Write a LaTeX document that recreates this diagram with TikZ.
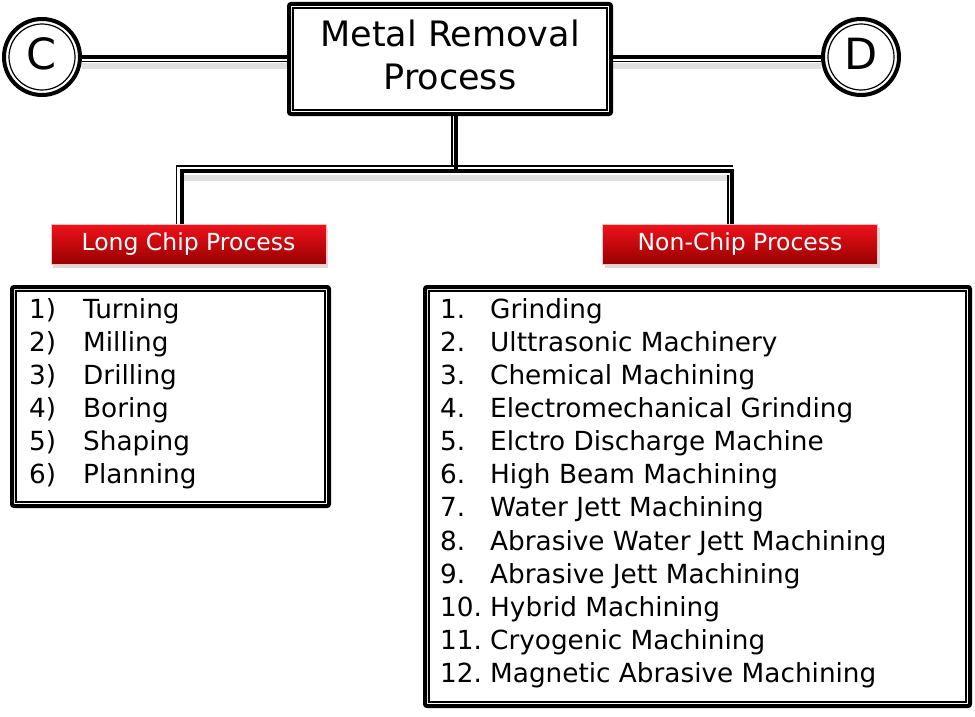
\documentclass[tikz,border=0pt]{standalone}
\usepackage{fontspec}
\setmainfont{DejaVu Sans}
\usetikzlibrary{shadows,calc}
\definecolor{redtop}{HTML}{F0121C}
\definecolor{redbot}{HTML}{980000}
\tikzset{
  thk/.style={line width=4pt, black},
  thn/.style={line width=1.2pt, black},
  shd/.style={line width=6pt, black, opacity=0.12},
  outerbox/.style={draw, line width=4pt, rounded corners=2pt, fill=white, inner sep=0pt},
  ring/.style={circle, draw, line width=4pt, minimum size=76pt, inner sep=0pt, fill=white},
  ringtxt/.style={inner sep=0pt, font=\fontsize{43}{46}\selectfont},
  redlabel/.style={draw=red!25!white, line width=0.8pt, top color=redtop, bottom color=redbot,
     text=white, minimum width=275pt, minimum height=40pt, inner sep=0pt,
     font=\fontsize{23.5}{26}\selectfont,
     drop shadow={opacity=0.3, shadow xshift=2pt, shadow yshift=-4pt}},
  listtxt/.style={inner sep=0pt, anchor=base west, font=\fontsize{26.3}{30}\selectfont},
}
\begin{document}
\begin{tikzpicture}[x=1pt, y=-1pt]
\useasboundingbox (0,0) rectangle (975,717);

% main box and circles
\node[outerbox, minimum width=322pt, minimum height=110pt] (main) at (450,59) {};
\draw[thn] ([shift={(6,6)}]main.north west) rectangle ([shift={(-6,-6)}]main.south east);
\node[inner sep=0pt, anchor=base, font=\fontsize{35}{42}\selectfont] (t1) at (450,47) {Metal Removal};
\node[inner sep=0pt, anchor=base, font=\fontsize{35}{42}\selectfont] (t2) at (450,89) {Process};

\node[ring] (C) at (42,57) {};
\draw[thn] (C.center) circle (33pt);
\node[ringtxt, anchor=base] (Ct) at (42,70) {C};
\node[ring] (D) at (861,57) {};
\draw[thn] (D.center) circle (33pt);
\node[ringtxt, anchor=base] (Dt) at (861,70) {D};

% horizontal connectors
\draw[shd, transform canvas={yshift=-9pt}] (C.east) -- (C.east -| main.west);
\draw[shd, transform canvas={yshift=-9pt}] (D.west -| main.east) -- (D.west);
\draw[thk] (C.east) -- (C.east -| main.west);
\draw[thn, transform canvas={yshift=-4.5pt}] (C.east) -- (C.east -| main.west);
\draw[thk] (D.west -| main.east) -- (D.west);
\draw[thn, transform canvas={yshift=-4.5pt}] (D.west -| main.east) -- (D.west);

% red labels
\node[redlabel] (lc) at (188.5,244) {Long Chip Process};
\node[redlabel] (rc) at (740,244) {Non-Chip Process};

% tree connector
\draw[shd, transform canvas={yshift=-7pt}] ([xshift=-7pt]lc.north |- 0,171) -- ([xshift=-8pt]rc.north |- 0,171);
\draw[thk] ([xshift=6pt]main.south) -- ++(0,55) -| ([xshift=-7pt]lc.north);
\draw[thk] ([xshift=6pt]main.south) -- ++(0,55) -| ([xshift=-8pt]rc.north);
\draw[thn] ([xshift=2pt]main.south) -- ++(0,50) -| ([xshift=-12pt]lc.north);
\draw[thn] ([xshift=2pt]main.south) -- ++(0,50) -- ([xshift=-7pt]rc.north |- 0,166);
\draw[thn] ([xshift=-12pt]rc.north |- 0,175) -- ([xshift=-12pt]rc.north);

% list boxes
\node[outerbox, minimum width=317pt, minimum height=219pt] (lbox) at (170.5,396.5) {};
\draw[thn] ([shift={(6,6)}]lbox.north west) rectangle ([shift={(-6,-6)}]lbox.south east);
\node[outerbox, minimum width=545pt, minimum height=419pt] (rbox) at (697.5,496.5) {};
\draw[thn] ([shift={(6,6)}]rbox.north west) rectangle ([shift={(-6,-6)}]rbox.south east);

\foreach \t [count=\i] in {Turning, Milling, Drilling, Boring, Shaping, Planning} {
  \node[listtxt] (ln\i) at (29,{318+33*(\i-1)}) {\i)};
  \node[listtxt] (lt\i) at (83,{318+33*(\i-1)}) {\t};
}
\foreach \t [count=\i] in {Grinding, Ulttrasonic Machinery, Chemical Machining,
   Electromechanical Grinding, Elctro Discharge Machine, High Beam Machining,
   Water Jett Machining, Abrasive Water Jett Machining, Abrasive Jett Machining,
   Hybrid Machining, Cryogenic Machining, Magnetic Abrasive Machining} {
  \node[listtxt] (rn\i) at (440,{318+33.15*(\i-1)}) {\i.};
  \node[listtxt] (rt\i) at (490,{318+33.15*(\i-1)}) {\t};
}
\end{tikzpicture}
\end{document}
